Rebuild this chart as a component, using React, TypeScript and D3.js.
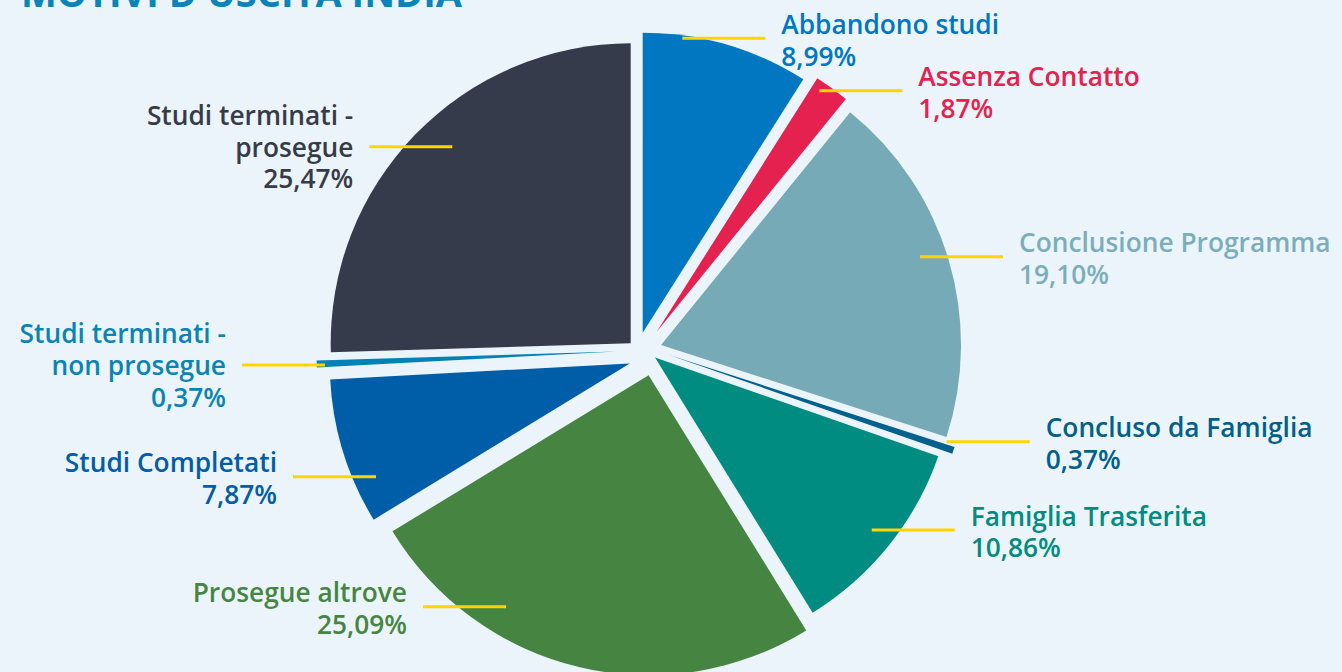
import React from "react";
import * as d3 from "d3";

// ---- data ----
const categories = [
  "Abbandono studi",
  "Assenza Contatto",
  "Conclusione Programma",
  "Concluso da Famiglia",
  "Famiglia Trasferita",
  "Prosegue altrove",
  "Studi Completati",
  "Studi terminati - non prosegue",
  "Studi terminati - prosegue",
];
const values = [8.99, 1.87, 19.1, 0.37, 10.86, 25.09, 7.87, 0.37, 25.47];
const title = "MOTIVI D'USCITA INDIA";

// ---- styles ----
const sliceColors = [
  "#0077C0", "#E5214F", "#76AAB6", "#00618E", "#008C80",
  "#468442", "#005DA8", "#0083B4", "#363B4B",
];
const labelColors = [
  "#0077C0", "#E5214F", "#7AAEBA", "#005F8B", "#008C80",
  "#468542", "#005DA8", "#0A84B5", "#363B4A",
];
// manual slice pull-out (dx, dy) as in the original infographic
const sliceShift: [number, number][] = [
  [2.7, -19.3], [16.7, -20.3], [21, -7], [29, 3], [15, 5.5],
  [8.6, 23.2], [-10.2, 11.5], [-23.5, -0.5], [-9.3, -8.7],
];
// connector inner point relative to pie centre, and side of the label
const labelAnchor: [number, number][] = [
  [42.3, -313.7], [179.3, -261.3], [280, -95.3], [306.7, 89.7], [231.7, 178],
  [-134, 254.7], [-264, 124.7], [-315, 13], [-187.7, -205.3],
];
const labelSide = [1, 1, 1, 1, 1, -1, -1, -1, -1];

const W = 1342;
const H = 672;
const CX = 640;
const CY = 352;
const R = 300;
const LINE_LEN = 83;
const GAP = 16;
const LH = 31.8;

const fmt = (v: number) => d3.format(".2f")(v).replace(".", ",") + "%";

export default function App() {
  const pie = d3
    .pie<number>()
    .sort(null)
    .value((d) => d)
    .startAngle(0)
    .endAngle(2 * Math.PI);
  const arcs = pie(values);
  const arc = d3.arc<d3.PieArcDatum<number>>().innerRadius(0).outerRadius(R);

  return (
    <svg
      width={W}
      height={H}
      style={{ position: "absolute", left: 0, top: 0, display: "block" }}
      fontFamily="'Open Sans', 'Noto Sans', sans-serif"
    >
      <rect x={0} y={0} width={W} height={H} fill="#ECF4FB" />
      <text x={21} y={7} fontSize={38} fontWeight={700} fill="#0984BA">
        {title}
      </text>
      <g transform={`translate(${CX},${CY})`}>
        {arcs.map((a, i) => (
          <path
            key={categories[i]}
            d={arc(a) || ""}
            fill={sliceColors[i]}
            transform={`translate(${sliceShift[i][0]},${sliceShift[i][1]})`}
          />
        ))}
        {arcs.map((a, i) => {
          const [ax, ay] = labelAnchor[i];
          const side = labelSide[i];
          const x2 = ax + side * LINE_LEN;
          const tx = x2 + side * GAP;
          const nameLines = categories[i].includes(" - ")
            ? [categories[i].split(" - ")[0] + " -", categories[i].split(" - ")[1]]
            : [categories[i]];
          const lines = [...nameLines, fmt(values[i])];
          const n = lines.length;
          const y1 = ay + 13 - 17.5 * (n - 1);
          return (
            <g key={"l" + i}>
              <line x1={ax} y1={ay} x2={x2} y2={ay} stroke="#FFD400" strokeWidth={3} />
              <text
                x={tx}
                y={y1}
                fontSize={26.3}
                fontWeight={600}
                fill={labelColors[i]}
                textAnchor={side > 0 ? "start" : "end"}
              >
                {lines.map((t, k) => (
                  <tspan key={k} x={tx} y={y1 + k * LH}>
                    {t}
                  </tspan>
                ))}
              </text>
            </g>
          );
        })}
      </g>
    </svg>
  );
}
